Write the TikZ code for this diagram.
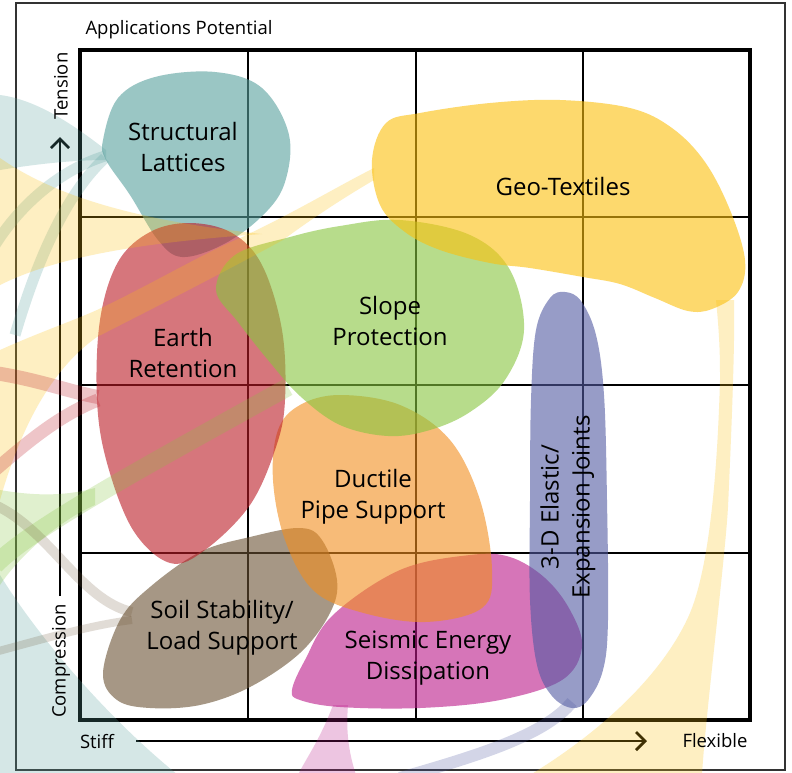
\documentclass[tikz,border=0pt]{standalone}
\usepackage{fontspec}
\setmainfont{Open Sans}
\usetikzlibrary{arrows.meta}
\definecolor{cTeal}{RGB}{88,160,158}
\definecolor{cRed}{RGB}{188,27,38}
\definecolor{cGreen}{RGB}{135,197,63}
\definecolor{cYellow}{RGB}{252,192,13}
\definecolor{cBlue}{RGB}{82,90,163}
\definecolor{cOrange}{RGB}{242,142,30}
\definecolor{cMagenta}{RGB}{187,25,137}
\definecolor{cBrown}{RGB}{107,83,52}
\tikzset{
 blob/.style={fill=#1, fill opacity=0.6, draw=none},
 rib/.style={fill=#1, fill opacity=0.25, draw=none},
 ribline/.style={draw=#1, draw opacity=0.25},
 gridline/.style={line width=1.3pt, black},
 lbl/.style={align=center, font=\fontsize{24}{31}\selectfont, inner sep=0pt},
 axlbl/.style={font=\fontsize{18.5}{22}\selectfont, inner sep=0pt},
 axline/.style={line width=2.6pt},
 axhead/.style={line width=2.8pt, miter limit=10},
}
\begin{document}
\begin{tikzpicture}[x=1pt,y=-1pt]
\useasboundingbox (0,0) rectangle (792,772);
\fill[white] (0,0) rectangle (792,772);
\begin{scope}
\clip (0,0) rectangle (792,772);
% outer frame
\draw[line width=1.5pt, black!80] (16,3) rectangle (785,770);
% grid
\foreach \g in {248,416,583} {\draw[gridline] (\g,50) -- (\g,720);}
\foreach \g in {217,385,553} {\draw[gridline] (80,\g) -- (750,\g);}
\draw[line width=4pt] (80,50) rectangle (750,720);
% axes
\coordinate (tBot) at (60,596);
\coordinate (tTop) at (60,139);
\coordinate (sL) at (136,741);
\coordinate (sR) at (645,741);
\draw[axline] (tBot) -- (tTop);
\draw[axhead] (tTop) ++(-9,9) -- (tTop) -- ++(9,9);
\draw[axline] (sL) -- (sR);
\draw[axhead] (sR) ++(-9,-9) -- (sR) -- ++(-9,9);

% blobs
\fill[blob=cTeal] plot[smooth cycle, tension=0.6] coordinates {(103,140) (118,98) (155,77) (215,72) (262,88) (289,135) (284,185) (260,218) (222,245) (182,257) (158,240) (130,195) (106,160)};
\fill[blob=cBrown] plot[smooth cycle, tension=0.6] coordinates {(103,673) (120,620) (150,587) (200,552) (250,537) (300,528) (322,540) (337,580) (330,613) (300,653) (250,687) (200,705) (150,708) (117,700)};
\fill[blob=cMagenta] plot[smooth cycle, tension=0.6] coordinates {(292,690) (305,660) (333,615) (400,570) (470,555) (510,557) (545,578) (570,610) (582,647) (562,680) (500,700) (420,708) (340,707) (300,700)};
\fill[blob=cOrange] plot[smooth cycle, tension=0.6] coordinates {(340,395) (400,405) (450,440) (480,500) (492,570) (482,608) (425,622) (360,612) (313,590) (285,540) (273,480) (278,430) (300,405)};
\fill[blob=cRed] plot[smooth cycle, tension=0.6] coordinates {(190,223) (232,233) (262,265) (282,330) (285,400) (276,447) (250,505) (205,550) (170,563) (133,530) (107,463) (97,400) (100,320) (118,262) (150,232)};
\fill[blob=cGreen] plot[smooth cycle, tension=0.6] coordinates {(216,290) (235,255) (290,237) (340,226) (400,220) (470,235) (510,270) (524,330) (505,380) (470,412) (430,430) (388,436) (340,425) (300,396) (268,360) (238,322)};
\fill[blob=cYellow] plot[smooth cycle, tension=0.6] coordinates {(372,160) (386,123) (420,113) (490,103) (560,100) (630,108) (672,128) (705,162) (730,210) (745,260) (738,292) (712,309) (688,311) (655,298) (620,284) (583,277) (530,268) (490,263) (440,250) (405,232) (380,205)};
\fill[blob=cBlue] plot[smooth cycle, tension=0.6] coordinates {(531,400) (536,330) (550,298) (565,292) (581,301) (596,335) (604,395) (607,500) (608,620) (603,670) (588,700) (572,708) (552,696) (537,665) (530,600) (530,500)};

% ribbons
\fill[rib=cTeal] (0,95) .. controls (40,100) and (80,130) .. (106,150) -- (106,160) .. controls (70,160) and (30,165) .. (0,170) -- cycle;
\draw[ribline=cTeal, line width=11pt] (105,156) .. controls (60,170) and (20,205) .. (-5,245);
\draw[ribline=cTeal, line width=11pt] (105,158) .. controls (70,190) and (40,250) .. (15,335);
\fill[rib=cTeal] (0,575) .. controls (40,640) and (110,720) .. (178,775) -- (0,775) -- cycle;
\fill[rib=cYellow] (0,158) .. controls (60,200) and (150,222) .. (262,234) .. controls (150,242) and (60,255) .. (0,285) -- cycle;
\fill[rib=cYellow] (0,350) .. controls (40,332) and (70,322) .. (97,310) .. controls (150,285) and (200,255) .. (240,238) .. controls (290,215) and (340,185) .. (374,168) -- (374,180) .. controls (340,200) and (310,220) .. (283,240) .. controls (200,285) and (130,320) .. (97,337) .. controls (50,370) and (20,430) .. (0,500) -- cycle;
\draw[ribline=cRed, line width=14pt] (-5,373) .. controls (40,380) and (70,392) .. (98,397);
\draw[ribline=cRed, line width=13pt] (-5,470) .. controls (30,440) and (60,415) .. (98,400);
\fill[rib=cGreen] (0,490) .. controls (40,497) and (70,495) .. (95,488) -- (95,505) .. controls (60,520) and (20,555) .. (0,585) -- cycle;
\draw[ribline=cGreen, line width=18pt] (-5,565) .. controls (30,530) and (120,480) .. (288,387);
\draw[ribline=cBrown, line width=10pt, draw opacity=0.2] (-5,505) .. controls (50,530) and (80,600) .. (132,612);
\draw[ribline=cBrown, line width=8pt, draw opacity=0.2] (-5,652) .. controls (40,640) and (90,625) .. (132,620);
\fill[rib=cYellow] (716,300) .. controls (720,340) and (720,360) .. (720,380) .. controls (718,450) and (712,560) .. (690,613) .. controls (670,660) and (620,720) .. (530,775) -- (702,775) .. controls (705,720) and (725,560) .. (728,507) .. controls (732,420) and (735,340) .. (734,300) -- cycle;
\fill[rib=cMagenta] (333,705) .. controls (320,740) and (305,760) .. (298,775) -- (356,775) .. controls (348,750) and (346,730) .. (348,705) -- cycle;
\draw[ribline=cBlue, line width=12pt] (572,702) .. controls (545,735) and (480,755) .. (400,778);
\end{scope}

% labels
\node[lbl] (lattice) at (183,147) {Structural\\Lattices};
\node[lbl] (geo) at (563,186) {Geo-Textiles};
\node[lbl] (slope) at (390,321) {Slope\\Protection};
\node[lbl] (earth) at (183,353) {Earth\\Retention};
\node[lbl] (ductile) at (373,497) {Ductile\\Pipe Support};
\node[lbl] (soil) at (222,628) {Soil Stability/\\Load Support};
\node[lbl] (seismic) at (428,658) {Seismic Energy\\Dissipation};
\node[lbl, rotate=90] (joints) at (568,507) {3-D Elastic/\\Expansion Joints};

\node[axlbl] (title) at (179,30) {Applications Potential};
\node[axlbl, rotate=90] (tension) at (61,86) {Tension};
\node[axlbl, rotate=90] (compr) at (61,661) {Compression};
\node[axlbl] (stiff) at (97,741) {Stiff};
\node[axlbl] (flex) at (715,741) {Flexible};
\end{tikzpicture}
\end{document}
